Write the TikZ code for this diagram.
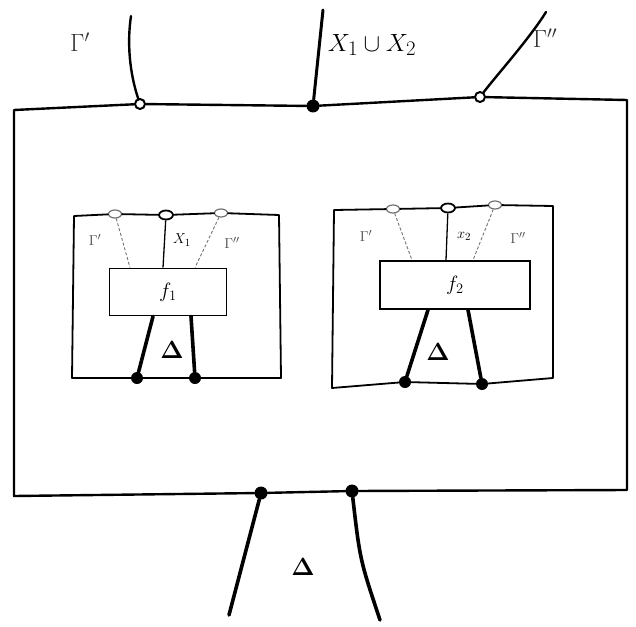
\documentclass[tikz,border=0pt]{standalone}
\usepackage{amsmath}
\usetikzlibrary{calc,shapes.geometric}
\begin{document}
\begin{tikzpicture}[x=1pt,y=-1pt,
  frame/.style={line width=2.4pt, line join=round, line cap=round},
  thin frame/.style={line width=1.8pt, line join=round, line cap=round},
  leg/.style={line width=3.6pt, line cap=round},
  faint/.style={line width=0.9pt, black!55, densely dashed},
  opendot/.style={circle, draw, fill=white, line width=2pt, inner sep=0pt, minimum size=10pt},
  smallopen/.style={ellipse, draw=black!55, fill=white, line width=1.2pt, inner sep=0pt, minimum width=13pt, minimum height=8pt},
  midopen/.style={ellipse, draw, fill=white, line width=1.8pt, inner sep=0pt, minimum width=14pt, minimum height=9pt},
  fulldot/.style={circle, fill, inner sep=0pt, minimum size=13pt},
  fbox/.style={draw, line width=1.8pt, minimum width=117pt, minimum height=47pt, font=\fontsize{22}{26}\selectfont},
  lbl/.style={font=\fontsize{24}{28}\selectfont},
  slbl/.style={font=\fontsize{15}{18}\selectfont, black!70},
  deltalbl/.style={font=\fontsize{30}{34}\selectfont}]
\useasboundingbox (0,0) rectangle (636,626);

% outer box
\coordinate (otl) at (14,110);
\coordinate (otr) at (627,100);
\coordinate (obr) at (627,490);
\coordinate (obl) at (14,496);
\node[opendot] (gl) at (140,104) {};
\node[fulldot] (gm) at (313,106) {};
\node[opendot] (gr) at (480,97) {};
\node[fulldot] (bl) at (261,493) {};
\node[fulldot] (br) at (352,491) {};
\draw[frame] (otl) -- (gl) -- (gm) -- (gr) -- (otr) -- (obr) -- (br) -- (bl) -- (obl) -- (otl);

% outer wires
\coordinate (tl) at (131,16);
\coordinate (tm) at (323,10);
\coordinate (tr) at (546,12);
\draw[frame] (gl) .. controls (132,80) and (126,50) .. (tl);
\draw[leg, line width=3pt] (gm) -- (tm);
\draw[frame] (gr) .. controls (496,76) and (530,38) .. (tr);
\node[lbl, black!80] (lgl) at (80,42) {$\Gamma'$};
\node[lbl, font=\fontsize{28}{32}\selectfont] (lx) at (372,45) {$X_1\cup X_2$};
\node[lbl, black!80] (lgr) at (545,38) {$\Gamma''$};

% lower wires
\coordinate (ll) at (229,615);
\coordinate (lr) at (380,620);
\draw[leg] (bl) -- (ll);
\draw[leg] (br) .. controls (360,560) .. (lr);
\node[deltalbl] (d0) at (303,567) {$\boldsymbol{\Delta}$};

% first inner box
\node[smallopen] (a1) at (115,214) {};
\node[midopen] (a2) at (166,215) {};
\node[smallopen] (a3) at (221,213) {};
\node[fulldot, minimum size=12pt] (a4) at (137,378) {};
\node[fulldot, minimum size=12pt] (a5) at (195,378) {};
\draw[thin frame] (74,216) -- (a1) -- (a2) -- (a3) -- (279,215) -- (281,378) -- (a5) -- (a4) -- (72,378) -- (74,216);
\node[fbox] (f1) at (168,292) {$f_1$};
\draw[line width=1.3pt] (a2) -- (f1.north -| 163,0);
\draw[faint] (a1) -- (f1.north -| 130,0);
\draw[faint] (a3) -- (f1.north -| 195,0);
\draw[leg] (f1.south -| 153,0) -- (a4);
\draw[leg] (f1.south -| 191,0) -- (a5);
\node[slbl] (l11) at (95,240) {$\Gamma'$};
\node[slbl, black] (l12) at (182,240) {$X_1$};
\node[slbl] (l13) at (232,243) {$\Gamma''$};
\node[deltalbl, font=\fontsize{24}{28}\selectfont] (d1) at (172,350) {$\boldsymbol{\Delta}$};

% second inner box
\node[smallopen] (b1) at (393,209) {};
\node[midopen] (b2) at (448,208) {};
\node[smallopen] (b3) at (495,205) {};
\node[fulldot, minimum size=12pt] (b4) at (405,382) {};
\node[fulldot, minimum size=12pt] (b5) at (482,384) {};
\draw[thin frame] (334,210) -- (b1) -- (b2) -- (b3) -- (553,206) -- (553,378) -- (b5) -- (b4) -- (332,388) -- (334,210);
\node[fbox, minimum width=150pt, minimum height=48pt] (f2) at (455,285) {$f_2$};
\draw[line width=1.3pt] (b2) -- (f2.north -| 446,0);
\draw[faint] (b1) -- (f2.north -| 412,0);
\draw[faint] (b3) -- (f2.north -| 473,0);
\draw[leg] (f2.south -| 428,0) -- (b4);
\draw[leg] (f2.south -| 468,0) -- (b5);
\node[slbl] (l21) at (366,236) {$\Gamma'$};
\node[slbl, black] (l22) at (464,236) {$x_2$};
\node[slbl] (l23) at (518,238) {$\Gamma''$};
\node[deltalbl, font=\fontsize{24}{28}\selectfont] (d2) at (438,352) {$\boldsymbol{\Delta}$};
\end{tikzpicture}
\end{document}
